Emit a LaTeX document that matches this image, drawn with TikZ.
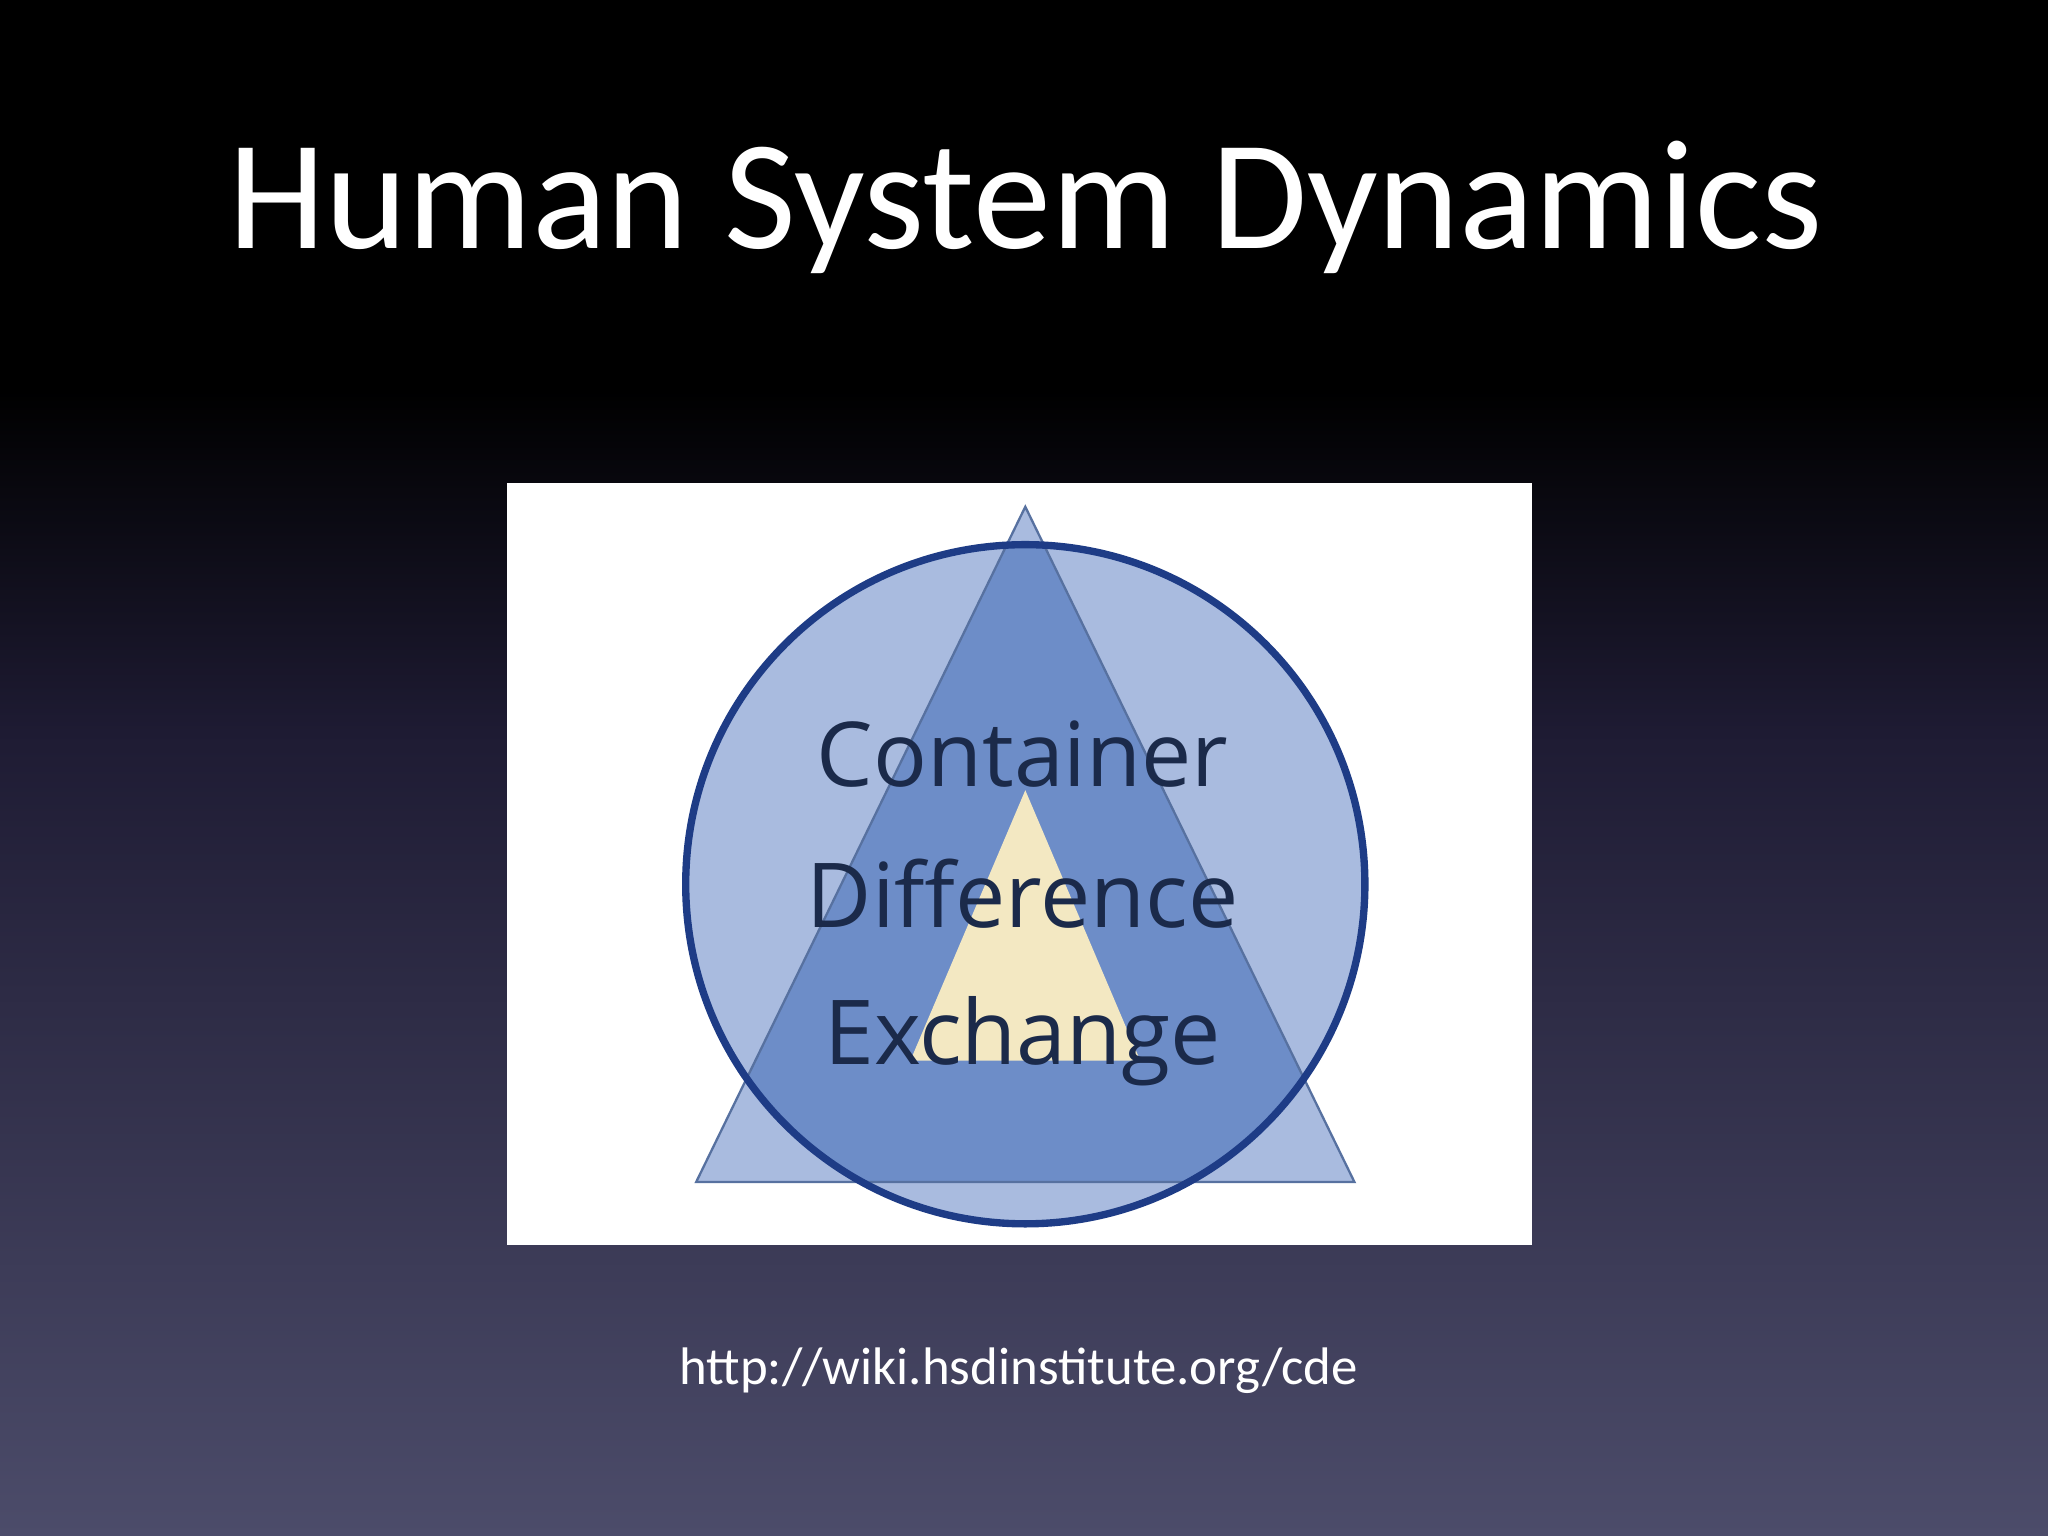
\documentclass[tikz,border=0pt]{standalone}
\usepackage{fontspec}
\setmainfont{Carlito}
\newfontfamily\lblfont{Open Sans}
\begin{document}
\begin{tikzpicture}[x=0.01cm,y=-0.01cm,
  lbl/.style={font=\lblfont\fontsize{19.5}{20}\selectfont,text=lblc,anchor=base}]
\definecolor{bgtop}{HTML}{000000}
\definecolor{bgmid}{HTML}{1e1b33}
\definecolor{bgbot}{HTML}{4c4c6a}
\definecolor{lightb}{HTML}{A9BBDF}
\definecolor{darkb}{HTML}{6D8DC8}
\definecolor{edgeb}{HTML}{1E3C86}
\definecolor{cream}{HTML}{F3E8C2}
\definecolor{lblc}{HTML}{1B2A4A}
\useasboundingbox (0,0) rectangle (1568,1176);
\fill[bgtop] (0,0) rectangle (1568,300);
\shade[top color=bgtop,bottom color=bgmid] (0,299) rectangle (1568,560);
\shade[top color=bgmid,bottom color=bgbot] (0,559) rectangle (1568,1176);
\node[text=white,font=\fontsize{34}{36}\selectfont,anchor=base] (title) at (785,190) {Human System Dynamics};
\fill[white] (388,370) rectangle (1173,953);
\coordinate (ta) at (785,388); \coordinate (tl) at (533,905); \coordinate (tr) at (1037,905);
\fill[lightb] (ta) -- (tl) -- (tr) -- cycle;
\fill[lightb] (785,677) circle (260);
\begin{scope}
\clip (785,677) circle (260);
\fill[darkb] (ta) -- (tl) -- (tr) -- cycle;
\end{scope}
\draw[darkb!80!black,line width=0.5pt] (ta) -- (tl) -- (tr) -- cycle;
\draw[edgeb,line width=1.6pt] (785,677) circle (260);
\fill[cream] (785,605) -- (697,812) -- (873,812) -- cycle;
\node[lbl] (c) at (783,602) {Container};
\node[lbl] (d) at (783,710) {Difference};
\node[lbl] (e) at (783,815) {Exchange};
\node[text=white,font=\fontsize{11.5}{12}\selectfont,anchor=base] (url) at (780,1060) {http://wiki.hsdinstitute.org/cde};
\end{tikzpicture}
\end{document}
